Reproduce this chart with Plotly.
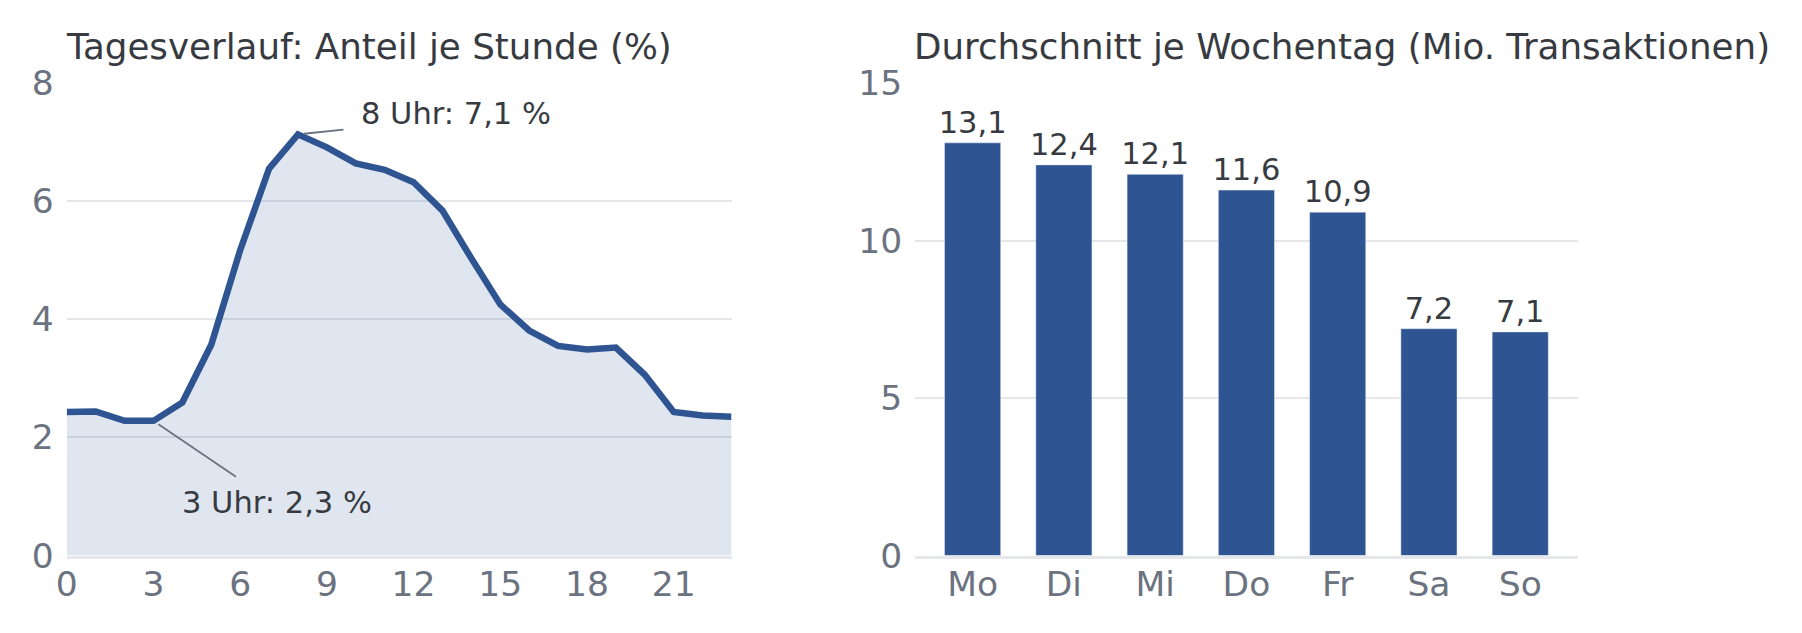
import plotly.graph_objects as go

# Tagesverlauf: Anteil je Stunde (%)
stunden = list(range(24))
anteil = [2.43, 2.44, 2.28, 2.28, 2.59, 3.57, 5.17, 6.55, 7.13, 6.91, 6.64, 6.53,
          6.32, 5.84, 5.03, 4.25, 3.81, 3.55, 3.49, 3.52, 3.06, 2.43, 2.37, 2.35]

# Durchschnitt je Wochentag (Mio. Transaktionen)
tage = ['Mo', 'Di', 'Mi', 'Do', 'Fr', 'Sa', 'So']
transaktionen = [13.1, 12.4, 12.1, 11.6, 10.9, 7.2, 7.1]

BLAU = '#2E5492'
TEXT = '#373B41'
GRAU = '#6B7280'
GITTER = '#E5E7EB'
FONT = 'DejaVu Sans'

fig = go.Figure()

fig.add_trace(go.Scatter(x=stunden, y=anteil, mode='lines', fill='tozeroy',
                         fillcolor='rgba(46,84,146,0.15)',
                         line=dict(color=BLAU, width=6.5),
                         xaxis='x', yaxis='y', showlegend=False, hoverinfo='skip'))

fig.add_trace(go.Bar(x=tage, y=transaktionen, marker_color=BLAU, width=0.615,
                     texttemplate='%{y:.1f}', textposition='outside', cliponaxis=False,
                     constraintext='none',
                     textfont=dict(size=30.5, color=TEXT, family=FONT),
                     xaxis='x2', yaxis='y2', showlegend=False, hoverinfo='skip'))

ticks = dict(family=FONT, size=34.5, color=GRAU)
y_achse = dict(showgrid=True, gridcolor=GITTER, gridwidth=2, zeroline=False, automargin=False,
               tickfont=ticks, ticks='', ticklabelstandoff=12, fixedrange=True)
x_achse = dict(showgrid=False, showline=True, linecolor=GITTER, linewidth=2.5, zeroline=False,
               automargin=False, tickfont=ticks, ticks='', ticklabelstandoff=-4, fixedrange=True)

# Seitenrand des Browsers (8 px) ausgleichen
Y_DOM = [0.135, 0.8815]
X1_DOM = [0.0326, 0.4015]
X2_DOM = [0.5034, 0.8711]

fig.update_layout(
    width=1802, height=633,
    margin=dict(l=0, r=0, t=0, b=0, autoexpand=False),
    paper_bgcolor='white', plot_bgcolor='white',
    separators=',.',
    font=dict(family=FONT, color=TEXT),
    xaxis=dict(domain=X1_DOM, range=[0, 23], tick0=0, dtick=3, **x_achse),
    yaxis=dict(domain=Y_DOM, range=[0, 8], dtick=2, anchor='x', **y_achse),
    xaxis2=dict(domain=X2_DOM, range=[-0.63, 6.63], anchor='y2', **x_achse),
    yaxis2=dict(domain=Y_DOM, range=[0, 15], dtick=5, anchor='x2', **y_achse),
)

# Titel
for titel, x0 in [('Tagesverlauf: Anteil je Stunde (%)', X1_DOM[0]),
                  ('Durchschnitt je Wochentag (Mio. Transaktionen)', X2_DOM[0])]:
    fig.add_annotation(text=titel, xref='paper', yref='paper', x=x0, y=0.9396,
                       xanchor='left', yanchor='middle', xshift=-3, showarrow=False,
                       font=dict(size=35.7, color=TEXT, family=FONT))

# Markierungen Maximum / Minimum
i_max = anteil.index(max(anteil))
i_min = 3
for i, ax, ay, xs, ys in [(i_max, 47, -5, 61, 21), (i_min, 84, 57, 27, -82)]:
    fig.add_annotation(x=stunden[i], y=anteil[i], xref='x', yref='y', text='',
                       showarrow=True, arrowhead=0, arrowwidth=1.8, arrowcolor=GRAU,
                       ax=ax, ay=ay, standoff=6)
    fig.add_annotation(x=stunden[i], y=anteil[i], xref='x', yref='y',
                       text=f'{stunden[i]} Uhr: {anteil[i]:.1f} %'.replace('.', ','),
                       showarrow=False, xanchor='left', yanchor='middle', xshift=xs, yshift=ys,
                       font=dict(size=30.5, color=TEXT, family=FONT))

fig.write_html('out.html')
